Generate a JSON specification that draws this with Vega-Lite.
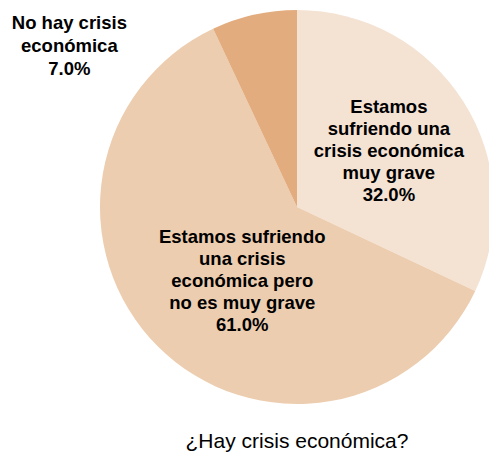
{
  "$schema": "https://vega.github.io/schema/vega-lite/v6.json",
  "width": 594,
  "height": 414,
  "autosize": {"type": "none"},
  "padding": {"left": 0, "top": 0, "right": 0, "bottom": 39},
  "background": "white",
  "title": {
    "text": "¿Hay crisis económica?",
    "orient": "bottom",
    "anchor": "middle",
    "offset": 17,
    "font": "Liberation Sans",
    "fontSize": 21,
    "fontWeight": "normal",
    "color": "#000000"
  },
  "data": {
    "values": [
      {"categoria": "Estamos sufriendo una crisis económica muy grave", "porcentaje": 32.0, "etiqueta": "Estamos\nsufriendo una\ncrisis económica\nmuy grave\n32.0%"},
      {"categoria": "Estamos sufriendo una crisis económica pero no es muy grave", "porcentaje": 61.0, "etiqueta": "Estamos sufriendo\nuna crisis\neconómica pero\nno es muy grave\n61.0%"},
      {"categoria": "No hay crisis económica", "porcentaje": 7.0, "etiqueta": "No hay crisis\neconómica\n7.0%"}
    ]
  },
  "encoding": {
    "theta": {"field": "porcentaje", "type": "quantitative", "stack": true}
  },
  "layer": [
    {
      "mark": {"type": "arc", "outerRadius": 197},
      "encoding": {
        "color": {
          "field": "categoria",
          "type": "nominal",
          "scale": {
            "domain": ["Estamos sufriendo una crisis económica muy grave", "Estamos sufriendo una crisis económica pero no es muy grave", "No hay crisis económica"],
            "range": ["#F4E2D3", "#EDCDAF", "#E2AC7E"]
          },
          "legend": null
        }
      }
    },
    {
      "mark": {"type": "text", "radius": 110, "dx": -1, "dy": -41, "font": "Liberation Sans", "fontSize": 18.5, "fontWeight": "bold", "lineBreak": "\n", "lineHeight": 22, "align": "center", "baseline": "middle", "color": "#000000"},
      "encoding": {
        "detail": {"field": "categoria", "type": "nominal"},
        "text": {"condition": {"test": "datum.categoria === 'Estamos sufriendo una crisis económica muy grave'", "field": "etiqueta"}, "value": ""}
      }
    },
    {
      "mark": {"type": "text", "radius": 93, "dx": 11, "dy": -36, "font": "Liberation Sans", "fontSize": 18.5, "fontWeight": "bold", "lineBreak": "\n", "lineHeight": 22, "align": "center", "baseline": "middle", "color": "#000000"},
      "encoding": {
        "detail": {"field": "categoria", "type": "nominal"},
        "text": {"condition": {"test": "datum.categoria === 'Estamos sufriendo una crisis económica pero no es muy grave'", "field": "etiqueta"}, "value": ""}
      }
    },
    {
      "mark": {"type": "text", "radius": 200, "dx": -184, "dy": 11, "font": "Liberation Sans", "fontSize": 18.5, "fontWeight": "bold", "lineBreak": "\n", "lineHeight": 23, "align": "center", "baseline": "middle", "color": "#000000"},
      "encoding": {
        "detail": {"field": "categoria", "type": "nominal"},
        "text": {"condition": {"test": "datum.categoria === 'No hay crisis económica'", "field": "etiqueta"}, "value": ""}
      }
    }
  ]
}
